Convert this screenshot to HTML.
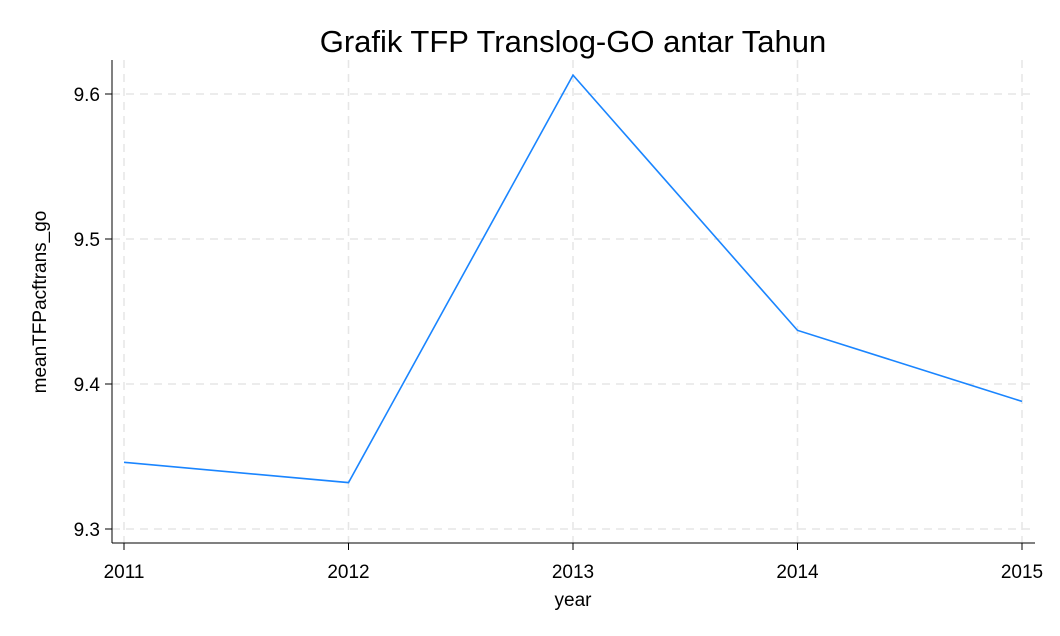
<!DOCTYPE html>
<html><head><meta charset="utf-8"><style>
html,body{margin:0;padding:0;background:#fff;}
svg{display:block;font-family:"Liberation Sans",Arial,sans-serif;}
</style></head><body>
<svg id="chart" width="1060" height="636">
<rect width="1060" height="636" fill="#fff"/>
<text x="573" y="52" font-size="31" text-anchor="middle" fill="#000">Grafik TFP Translog-GO antar Tahun</text>
<g id="grid"></g>
<g id="axes"></g>
<path id="line" fill="none" stroke="#1a85ff" stroke-width="1.6"/>
<text x="573" y="606" font-size="19" text-anchor="middle">year</text>
<text transform="translate(46,302) rotate(-90)" font-size="19" text-anchor="middle">meanTFPacftrans_go</text>
</svg>
<script>
const years=[2011,2012,2013,2014,2015];
const values=[9.346,9.332,9.613,9.437,9.388];
const yTicks=[9.3,9.4,9.5,9.6];
const ns="http://www.w3.org/2000/svg";
const x=v=>124+(v-2011)*(1022-124)/4;
const y=v=>529-(v-9.3)*1450;
const grid=document.getElementById('grid'),axes=document.getElementById('axes');
function mk(tag,attrs,parent){const e=document.createElementNS(ns,tag);for(const k in attrs)e.setAttribute(k,attrs[k]);parent.appendChild(e);return e;}
const L=112,R=1035,T=60,B=543;
years.forEach(yr=>{
 const g=mk('line',{x1:x(yr),x2:x(yr),y1:T,y2:B,stroke:'#e6e6e6','stroke-width':1.5,'stroke-dasharray':'8,6'},grid);
 
 
 const t=mk('line',{x1:x(yr),x2:x(yr),y1:B,y2:B+7,stroke:'#000','stroke-width':1},axes);
 
 
 const l=mk('text',{x:x(yr),y:578,'font-size':19,'text-anchor':'middle'},axes);
 l.textContent=yr;
 
 
});
yTicks.forEach(v=>{
 const g=mk('line',{x1:L,x2:R,y1:y(v),y2:y(v),stroke:'#e6e6e6','stroke-width':1.5,'stroke-dasharray':'8,6'},grid);
 
 
 const t=mk('line',{x1:L-7,x2:L,y1:y(v),y2:y(v),stroke:'#000','stroke-width':1},axes);
 
 
 const l=mk('text',{x:L-12,y:y(v)+7,'font-size':19,'text-anchor':'end'},axes);
 l.textContent=v.toFixed(1);
 
 
});
const ya=mk('line',{x1:L,x2:L,y1:T,y2:B,stroke:'#000','stroke-width':1},axes);


const xa=mk('line',{x1:L,x2:R,y1:B,y2:B,stroke:'#000','stroke-width':1},axes);


document.getElementById('line').setAttribute('d',years.map((yr,i)=>(i?'L':'M')+x(yr)+','+y(values[i])).join(' '));
</script>
</body></html>
